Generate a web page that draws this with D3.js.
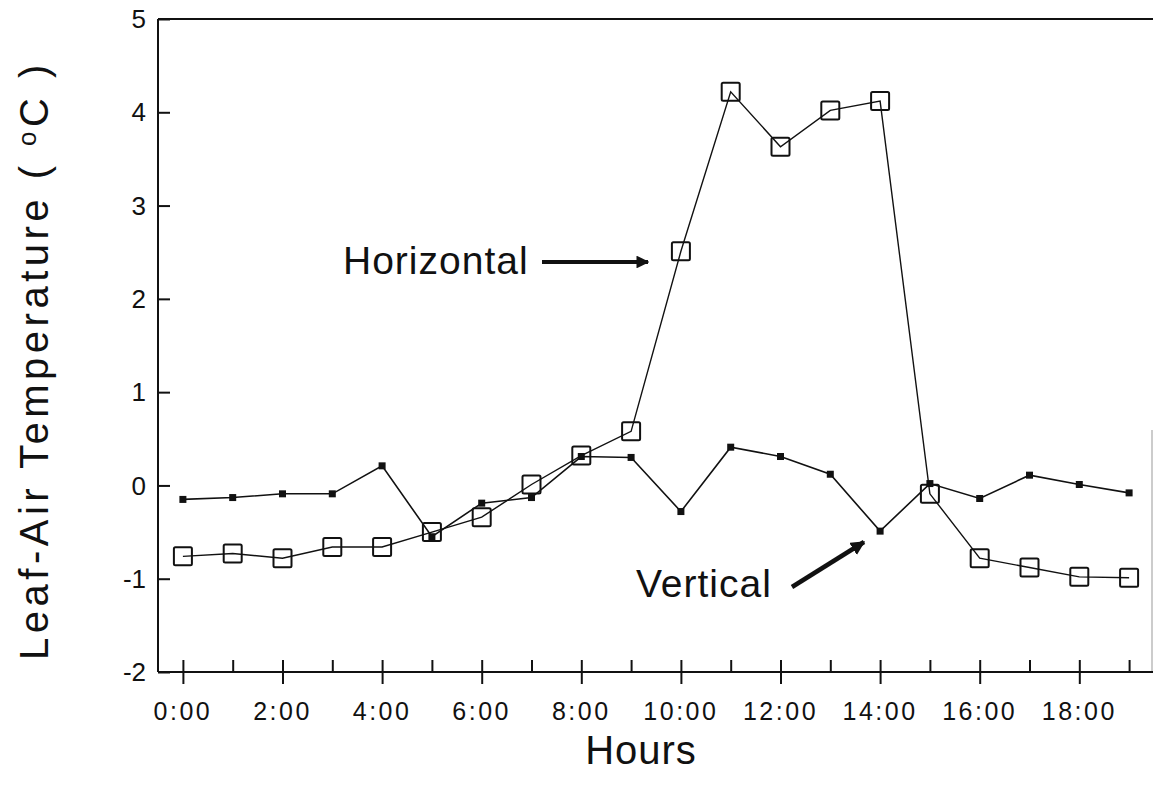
<meta charset="utf-8">
<style>body { margin: 0; } svg { display: block; }</style>
<svg width="1153" height="787"></svg>
<script src="https://d3js.org/d3.v7.min.js"></script>
<script>
var hours = d3.range(0, 20);
var tickLabels = ["0:00", "2:00", "4:00", "6:00", "8:00", "10:00", "12:00", "14:00", "16:00", "18:00"];
var horizontal = [-0.76, -0.73, -0.78, -0.66, -0.66, -0.5, -0.34, 0.01, 0.32, 0.58,
                  2.51, 4.22, 3.63, 4.02, 4.12, -0.09, -0.78, -0.88, -0.98, -0.99];
var vertical = [-0.15, -0.13, -0.09, -0.09, 0.21, -0.55, -0.19, -0.13, 0.31, 0.30,
                -0.28, 0.41, 0.31, 0.12, -0.49, 0.02, -0.14, 0.11, 0.01, -0.08];
var yTicks = [-2, -1, 0, 1, 2, 3, 4, 5];

var svg = d3.select("svg"),
    margin = {top: 19, right: 0, bottom: 115, left: 158},
    width = +svg.attr("width"),
    height = +svg.attr("height");

var font = "'Liberation Sans', Arial, sans-serif";

var x = d3.scaleLinear()
    .domain([-0.5, 19.5])
    .range([margin.left, 1154]);

var y = d3.scaleLinear()
    .domain([-2, 5])
    .range([672, margin.top]);

// frame
svg.append("line")
    .attr("x1", margin.left).attr("x2", width)
    .attr("y1", y(5)).attr("y2", y(5))
    .attr("stroke", "#111").attr("stroke-width", 2);
svg.append("line")
    .attr("x1", 1152).attr("x2", 1152)
    .attr("y1", 430).attr("y2", y(-2))
    .attr("stroke", "#999").attr("stroke-width", 1);

// y axis
var yAxis = svg.append("g")
    .attr("transform", "translate(" + margin.left + ",0)")
    .call(d3.axisRight(y).tickValues(yTicks).tickSize(12).tickFormat(""));
yAxis.select(".domain").attr("stroke", "#111").attr("stroke-width", 2)
    .attr("d", "M0," + y(-2) + "V" + y(5));
yAxis.selectAll(".tick line").attr("stroke", "#111").attr("stroke-width", 2);

svg.append("g").selectAll("text")
    .data(yTicks)
  .enter().append("text")
    .attr("x", 146)
    .attr("y", function(d) { return y(d); })
    .attr("dy", "0.35em")
    .attr("text-anchor", "end")
    .attr("font-family", font)
    .attr("font-size", "26px")
    .attr("fill", "#111")
    .text(function(d) { return d < 0 ? "-" + Math.abs(d) : d; });

// x axis: minor ticks point up, labelled ticks cross the axis
var xAxis = svg.append("g")
    .attr("transform", "translate(0," + y(-2) + ")")
    .call(d3.axisTop(x).tickValues(hours).tickSize(12).tickFormat(""));
xAxis.select(".domain").attr("stroke", "#111").attr("stroke-width", 2)
    .attr("d", "M" + margin.left + ",0H" + width);
xAxis.selectAll(".tick line")
    .attr("stroke", "#111").attr("stroke-width", 2)
    .attr("y2", -12)
    .attr("y1", function(d) { return d % 2 === 0 ? 12 : 0; });

svg.append("g").selectAll("text")
    .data(tickLabels)
  .enter().append("text")
    .attr("x", function(d, i) { return x(i * 2); })
    .attr("y", 720)
    .attr("text-anchor", "middle")
    .attr("font-family", font)
    .attr("font-size", "25px")
    .attr("letter-spacing", "2.5px")
    .attr("fill", "#111")
    .text(function(d) { return d; });

// axis titles
svg.append("text")
    .attr("x", 641)
    .attr("y", 764)
    .attr("text-anchor", "middle")
    .attr("font-family", font)
    .attr("font-size", "40px")
    .attr("letter-spacing", "1px")
    .attr("fill", "#111")
    .text("Hours");

var yl = svg.append("text")
    .attr("transform", "translate(48,360) rotate(-90)")
    .attr("text-anchor", "middle")
    .attr("font-family", font)
    .attr("font-size", "40px")
    .attr("letter-spacing", "4.5px")
    .attr("fill", "#111");
yl.append("tspan").text("Leaf-Air Temperature ( ");
yl.append("tspan").attr("font-size", "26px").attr("dy", "-12").text("o");
yl.append("tspan").attr("dy", "12").text("C )");

// series
var line = d3.line()
    .x(function(d, i) { return x(hours[i]); })
    .y(function(d) { return y(d); });

svg.append("path")
    .datum(vertical)
    .attr("fill", "none")
    .attr("stroke", "#111")
    .attr("stroke-width", 1.6)
    .attr("d", line);

svg.append("path")
    .datum(horizontal)
    .attr("fill", "none")
    .attr("stroke", "#111")
    .attr("stroke-width", 1.4)
    .attr("d", line);

svg.append("g").selectAll("rect")
    .data(vertical)
  .enter().append("rect")
    .attr("x", function(d, i) { return x(hours[i]) - 3.5; })
    .attr("y", function(d) { return y(d) - 3.5; })
    .attr("width", 7)
    .attr("height", 7)
    .attr("fill", "#111");

svg.append("g").selectAll("rect")
    .data(horizontal)
  .enter().append("rect")
    .attr("x", function(d, i) { return x(hours[i]) - 9; })
    .attr("y", function(d) { return y(d) - 9; })
    .attr("width", 18)
    .attr("height", 18)
    .attr("rx", 1.5)
    .attr("fill", "none")
    .attr("stroke", "#111")
    .attr("stroke-width", 2);

// annotations
svg.append("defs").append("marker")
    .attr("id", "head")
    .attr("viewBox", "0 0 10 10")
    .attr("refX", 9).attr("refY", 5)
    .attr("markerWidth", 3.2).attr("markerHeight", 3.2)
    .attr("markerUnits", "strokeWidth")
    .attr("orient", "auto")
  .append("path")
    .attr("d", "M0,0L10,5L0,10z")
    .attr("fill", "#111");

svg.append("text")
    .attr("x", 343).attr("y", 274)
    .attr("font-family", font)
    .attr("font-size", "39px")
    .attr("letter-spacing", "1px")
    .attr("fill", "#111")
    .text("Horizontal");
svg.append("line")
    .attr("x1", 542).attr("y1", 262)
    .attr("x2", 648).attr("y2", 262)
    .attr("stroke", "#111").attr("stroke-width", 4)
    .attr("marker-end", "url(#head)");

svg.append("text")
    .attr("x", 636).attr("y", 597)
    .attr("font-family", font)
    .attr("font-size", "39px")
    .attr("letter-spacing", "1px")
    .attr("fill", "#111")
    .text("Vertical");
svg.append("line")
    .attr("x1", 792).attr("y1", 587)
    .attr("x2", 864).attr("y2", 542)
    .attr("stroke", "#111").attr("stroke-width", 4.5)
    .attr("marker-end", "url(#head)");
</script>
